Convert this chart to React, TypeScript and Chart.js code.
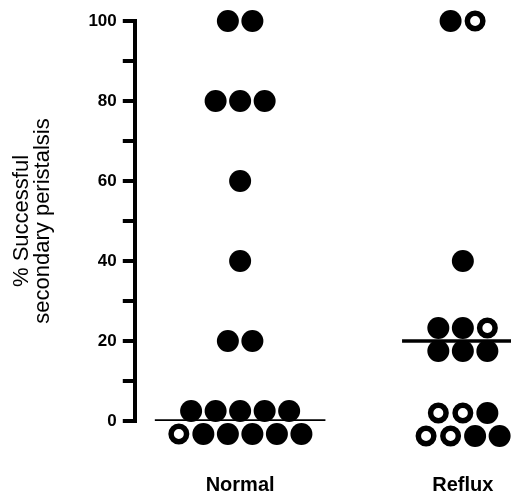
import { useEffect, useRef } from 'react';
import { Chart, registerables } from 'chart.js';

Chart.register(...registerables);

// ---- data ----
const categories = ['Normal', 'Reflux'];
const normalValues = [100, 100, 80, 80, 80, 60, 40, 20, 20, 2.5, 2.5, 2.5, 2.5, 2.5, -3.25, -3.25, -3.25, -3.25, -3.25, -3.25];
const normalOpen = [false, false, false, false, false, false, false, false, false, false, false, false, false, false, true, false, false, false, false, false];
const refluxValues = [100, 100, 40, 23.25, 23.25, 23.25, 17.5, 17.5, 17.5, 2, 2, 2, -3.75, -3.75, -3.75, -3.75];
const refluxOpen = [false, true, false, false, false, true, false, false, false, true, true, false, true, true, false, false];
const medians = [0, 20];
const yTitle = ['% Successful', 'secondary peristalsis'];

// ---- layout (not data) ----
const W = 511;
const H = 496;
const X_MAX = 100;
const PLOT_W = 376; // expected chart-area width in px
const PX = X_MAX / PLOT_W; // x units per pixel
const categoryCenters = [28, 87.2];
const SPACING_PX = 24.5;
const DOT_SPACING = SPACING_PX * PX;
const FILLED_R = 11;
const OPEN_R = 7.75;
const OPEN_BW = 5.5;
const FONT = "'Liberation Sans', Arial, sans-serif";

function layoutDots(values: number[], open: boolean[], center: number) {
  const groups = new Map<number, number[]>();
  values.forEach((v, i) => {
    if (!groups.has(v)) groups.set(v, []);
    groups.get(v)!.push(i);
  });
  const pts: { x: number; y: number }[] = new Array(values.length);
  let widest = 1;
  groups.forEach((idxs, v) => {
    const n = idxs.length;
    widest = Math.max(widest, n);
    idxs.forEach((idx, k) => {
      pts[idx] = { x: center + (k - (n - 1) / 2) * DOT_SPACING, y: v };
    });
  });
  return {
    pts,
    widest,
    bg: open.map((o) => (o ? '#ffffff' : '#000000')),
    radius: open.map((o) => (o ? OPEN_R : FILLED_R)),
    bw: open.map((o) => (o ? OPEN_BW : 0)),
  };
}

export default function App() {
  const ref = useRef<HTMLCanvasElement | null>(null);

  useEffect(() => {
    if (!ref.current) return;
    const groups = [
      layoutDots(normalValues, normalOpen, categoryCenters[0]),
      layoutDots(refluxValues, refluxOpen, categoryCenters[1]),
    ];

    const dotSets = groups.map((g, i) => ({
      label: categories[i],
      data: g.pts,
      showLine: false,
      pointBackgroundColor: g.bg,
      pointBorderColor: '#000000',
      pointRadius: g.radius,
      pointBorderWidth: g.bw,
      pointHoverRadius: 40, // only enlarges the in-area margin; no hover events
      pointHoverBorderWidth: g.bw,
      clip: false as any,
      order: 0,
    }));

    const medianSets = groups.map((g, i) => {
      const half = (((g.widest - 1) / 2) * SPACING_PX + FILLED_R + 13) * PX;
      return {
        label: categories[i] + ' median',
        data: [
          { x: categoryCenters[i] - half, y: medians[i] },
          { x: categoryCenters[i] + half, y: medians[i] },
        ],
        showLine: true,
        borderColor: '#000000',
        borderWidth: 3.5,
        pointRadius: 0,
        pointHoverRadius: 0,
        order: 1,
      };
    });

    const chart = new Chart(ref.current, {
      type: 'scatter',
      data: { datasets: [...dotSets, ...medianSets] as any },
      options: {
        responsive: false,
        animation: false,
        devicePixelRatio: 1,
        events: [],
        layout: { autoPadding: false, padding: { top: 21, left: 12, right: 0, bottom: -5 } },
        plugins: { legend: { display: false }, tooltip: { enabled: false } },
        scales: {
          x: {
            type: 'linear',
            min: 0,
            max: X_MAX,
            grid: { display: false, drawTicks: false },
            border: { display: false },
            afterBuildTicks: (scale: any) => {
              scale.ticks = categoryCenters.map((v) => ({ value: v }));
            },
            ticks: {
              autoSkip: false,
              maxRotation: 0,
              minRotation: 0,
              padding: 4,
              color: '#000000',
              font: { family: FONT, size: 20, weight: 'bold', lineHeight: 1.2 },
              callback: (_v: any, i: number) => ['', '', categories[i]],
            },
          },
          y: {
            type: 'linear',
            min: 0,
            max: 100,
            grid: {
              display: true,
              drawOnChartArea: false,
              drawTicks: true,
              tickLength: 12,
              tickWidth: 4,
              lineWidth: 4,
              color: '#000000',
            },
            border: { display: true, width: 4, color: '#000000' },
            ticks: {
              stepSize: 10,
              autoSkip: false,
              padding: 6,
              color: '#000000',
              font: { family: FONT, size: 17, weight: 'bold' },
              callback: (v: any) => (Number(v) % 20 === 0 ? String(v) : ''),
            },
            title: {
              display: true,
              text: yTitle,
              color: '#000000',
              font: { family: FONT, size: 22, lineHeight: 0.93 },
              padding: { top: 0, bottom: 29.5 },
            },
          },
        },
      } as any,
    });
    return () => chart.destroy();
  }, []);

  return (
    <div style={{ position: 'absolute', left: 0, top: 0, width: W, height: H, background: '#fff' }}>
      <canvas ref={ref} width={W} height={H} style={{ display: 'block' }} />
    </div>
  );
}
